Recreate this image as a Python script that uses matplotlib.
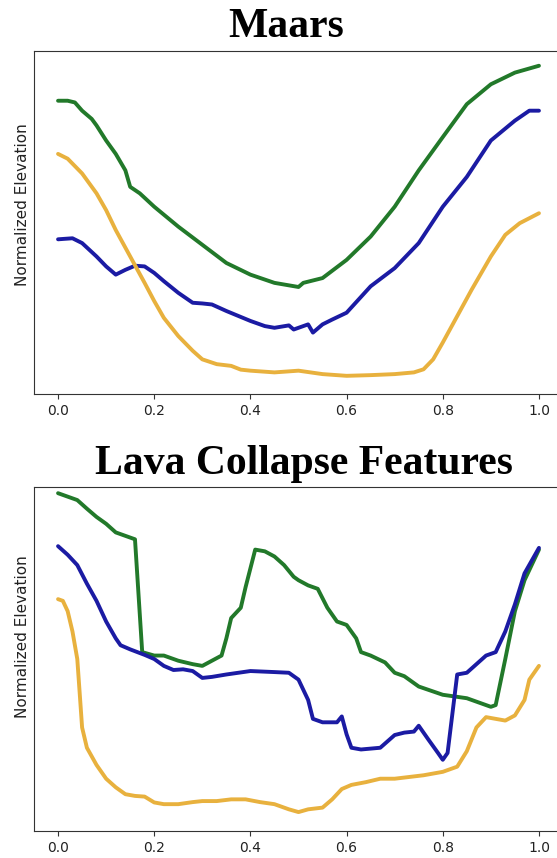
import numpy as np
import matplotlib.pyplot as plt

# Maars profiles (distance normalised 0-1, elevation normalised)
maars_x_green = [0.0, 0.02, 0.035, 0.05, 0.07, 0.08, 0.1, 0.12, 0.14, 0.15, 0.17, 0.2, 0.25, 0.3,
                 0.35, 0.4, 0.45, 0.5, 0.51, 0.55, 0.6, 0.65, 0.7, 0.75, 0.8, 0.85, 0.9, 0.95, 1.0]
maars_green = [0.855, 0.855, 0.850, 0.826, 0.802, 0.783, 0.739, 0.700, 0.652, 0.604, 0.585, 0.546,
               0.488, 0.435, 0.382, 0.348, 0.324, 0.312, 0.324, 0.338, 0.391, 0.459, 0.546, 0.652,
               0.749, 0.845, 0.903, 0.937, 0.957]

maars_x_blue = [0.0, 0.03, 0.05, 0.08, 0.1, 0.12, 0.14, 0.16, 0.18, 0.2, 0.22, 0.25, 0.28, 0.3, 0.32,
                0.35, 0.4, 0.43, 0.45, 0.48, 0.49, 0.5, 0.52, 0.53, 0.55, 0.57, 0.6, 0.65, 0.7, 0.75,
                0.8, 0.85, 0.9, 0.95, 0.98, 1.0]
maars_blue = [0.451, 0.454, 0.440, 0.401, 0.372, 0.348, 0.362, 0.374, 0.372, 0.353, 0.329, 0.295,
              0.266, 0.264, 0.261, 0.242, 0.213, 0.198, 0.193, 0.200, 0.188, 0.193, 0.203, 0.179,
              0.203, 0.217, 0.237, 0.314, 0.367, 0.440, 0.546, 0.633, 0.739, 0.797, 0.826, 0.826]

maars_x_orange = [0.0, 0.02, 0.05, 0.08, 0.1, 0.12, 0.15, 0.18, 0.2, 0.22, 0.25, 0.28, 0.3, 0.33,
                  0.36, 0.38, 0.4, 0.45, 0.5, 0.55, 0.6, 0.65, 0.7, 0.74, 0.76, 0.78, 0.8, 0.83,
                  0.86, 0.9, 0.93, 0.96, 1.0]
maars_orange = [0.700, 0.686, 0.643, 0.585, 0.536, 0.478, 0.401, 0.324, 0.271, 0.222, 0.169, 0.126,
                0.101, 0.087, 0.082, 0.071, 0.068, 0.063, 0.068, 0.058, 0.053, 0.055, 0.058, 0.063,
                0.072, 0.101, 0.150, 0.227, 0.304, 0.401, 0.464, 0.498, 0.527]

# Lava collapse feature profiles
lava_x_green = [0.0, 0.02, 0.04, 0.06, 0.08, 0.1, 0.12, 0.14, 0.15, 0.16, 0.175, 0.2, 0.22, 0.25,
                0.28, 0.3, 0.32, 0.34, 0.35, 0.36, 0.38, 0.39, 0.41, 0.43, 0.45, 0.47, 0.49, 0.5,
                0.52, 0.54, 0.56, 0.58, 0.6, 0.62, 0.63, 0.65, 0.68, 0.7, 0.72, 0.75, 0.8, 0.85,
                0.88, 0.9, 0.91, 0.93, 0.95, 0.97, 1.0]
lava_green = [0.982, 0.972, 0.962, 0.937, 0.913, 0.893, 0.868, 0.858, 0.853, 0.848, 0.520, 0.510,
              0.510, 0.495, 0.485, 0.480, 0.495, 0.510, 0.560, 0.619, 0.649, 0.709, 0.818, 0.813,
              0.798, 0.773, 0.739, 0.729, 0.714, 0.704, 0.649, 0.609, 0.599, 0.560, 0.520, 0.510,
              0.490, 0.460, 0.450, 0.420, 0.396, 0.386, 0.371, 0.361, 0.366, 0.500, 0.639, 0.729,
              0.818]

lava_x_blue = [0.0, 0.02, 0.04, 0.06, 0.08, 0.1, 0.12, 0.13, 0.15, 0.18, 0.2, 0.22, 0.24, 0.26,
               0.28, 0.3, 0.32, 0.35, 0.4, 0.45, 0.48, 0.5, 0.52, 0.53, 0.55, 0.58, 0.59, 0.6,
               0.61, 0.63, 0.67, 0.7, 0.72, 0.74, 0.75, 0.77, 0.79, 0.8, 0.81, 0.83, 0.85, 0.87,
               0.89, 0.91, 0.93, 0.95, 0.97, 1.0]
lava_blue = [0.828, 0.803, 0.773, 0.719, 0.669, 0.609, 0.560, 0.540, 0.528, 0.512, 0.500, 0.480,
             0.468, 0.470, 0.465, 0.445, 0.448, 0.455, 0.465, 0.462, 0.460, 0.440, 0.381, 0.326,
             0.316, 0.316, 0.333, 0.281, 0.242, 0.237, 0.242, 0.279, 0.286, 0.289, 0.306, 0.266,
             0.227, 0.207, 0.227, 0.455, 0.460, 0.485, 0.510, 0.520, 0.580, 0.659, 0.749, 0.823]

lava_x_orange = [0.0, 0.01, 0.02, 0.03, 0.04, 0.045, 0.05, 0.06, 0.08, 0.1, 0.12, 0.14, 0.16, 0.18,
                 0.2, 0.22, 0.25, 0.28, 0.3, 0.33, 0.36, 0.39, 0.42, 0.45, 0.48, 0.5, 0.52, 0.55,
                 0.57, 0.59, 0.61, 0.64, 0.67, 0.7, 0.73, 0.76, 0.8, 0.83, 0.85, 0.87, 0.89, 0.91,
                 0.93, 0.95, 0.97, 0.98, 1.0]
lava_orange = [0.674, 0.669, 0.639, 0.580, 0.500, 0.401, 0.301, 0.242, 0.192, 0.152, 0.127, 0.107,
               0.102, 0.100, 0.083, 0.078, 0.078, 0.084, 0.087, 0.087, 0.092, 0.092, 0.084, 0.078,
               0.063, 0.055, 0.063, 0.068, 0.092, 0.122, 0.134, 0.142, 0.152, 0.152, 0.157, 0.162,
               0.172, 0.187, 0.232, 0.301, 0.331, 0.326, 0.321, 0.336, 0.381, 0.440, 0.480]

GREEN = '#22792a'
BLUE = '#1b1ba3'
ORANGE = '#e8b13e'

fig = plt.figure(figsize=(5.57, 8.58), dpi=100)
ax1 = fig.add_axes([34 / 557, 1 - 394 / 858, 529 / 557, 343 / 858])
ax2 = fig.add_axes([34 / 557, 1 - 831 / 858, 529 / 557, 344 / 858])

# axes, title, title x, title pad, ylabel y, curves
panels = [
    (ax1, 'Maars', 0.476, 10, 0.553,
     [(maars_x_green, maars_green, GREEN), (maars_x_blue, maars_blue, BLUE),
      (maars_x_orange, maars_orange, ORANGE)]),
    (ax2, 'Lava Collapse Features', 0.511, 9.5, 0.565,
     [(lava_x_green, lava_green, GREEN), (lava_x_blue, lava_blue, BLUE),
      (lava_x_orange, lava_orange, ORANGE)]),
]

for ax, title, tx, tpad, ly, curves in panels:
    for xs, ys, c in curves:
        ax.plot(xs, ys, color=c, lw=2.8, solid_capstyle='round')
    ax.set_xlim(-0.05, 1.05)
    ax.set_ylim(0, 1)
    ax.set_xticks([0.0, 0.2, 0.4, 0.6, 0.8, 1.0])
    ax.set_yticks([])
    ax.tick_params(axis='x', labelsize=10, colors='#333333', labelcolor='#222222')
    for s in ax.spines.values():
        s.set_color('#333333')
    ax.set_ylabel('Normalized Elevation', fontsize=11, color='#222222')
    ax.yaxis.set_label_coords(-0.007, ly)
    ax.set_title(title, x=tx, fontsize=30, fontweight='bold', family='Liberation Serif', pad=tpad)

fig.savefig('out.png', dpi=100)
